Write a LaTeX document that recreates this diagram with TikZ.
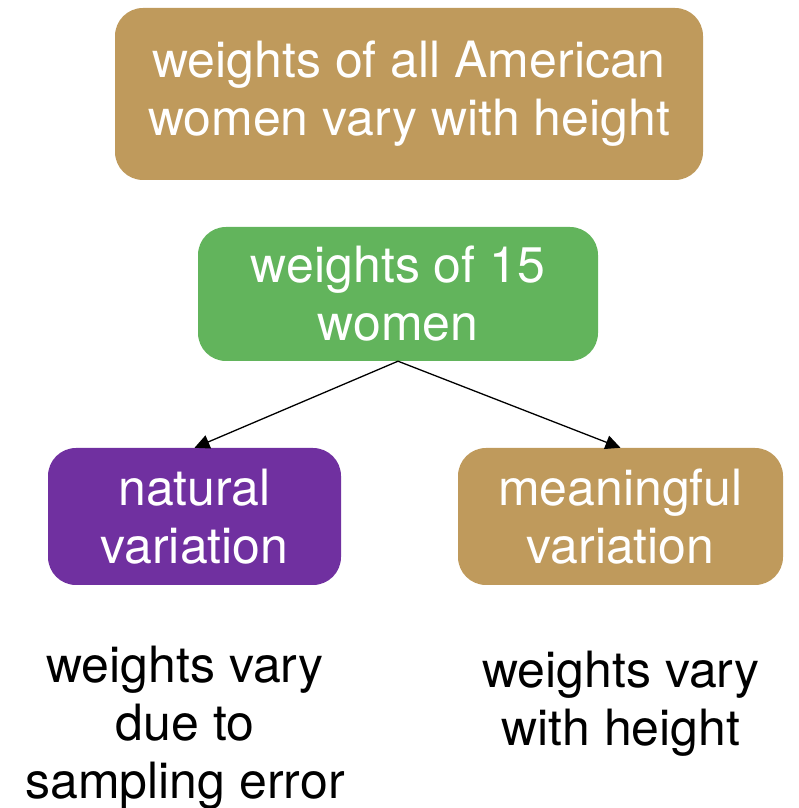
\documentclass[tikz,border=0pt]{standalone}
\usepackage{fontspec}
\setmainfont{TeX Gyre Heros}
\usetikzlibrary{arrows.meta,positioning}
\definecolor{tanbox}{HTML}{BF9A5C}
\definecolor{greenbox}{HTML}{62B45C}
\definecolor{purplebox}{HTML}{7030A0}

\begin{document}
\begin{tikzpicture}[x=1pt,y=1pt,
  every node/.style={font=\fontsize{50}{58}\selectfont},
  box/.style={rounded corners=28pt,text=white,align=center,inner sep=0pt}]
\useasboundingbox (0,0) rectangle (798,808);
\node[box,fill=tanbox,minimum width=588pt,minimum height=172pt] (pop) at (409,714) {weights of all American\\women vary with height};
\node[box,fill=greenbox,minimum width=400pt,minimum height=134pt] (sample) at (398,514) {weights of 15\\women};
\node[box,fill=purplebox,minimum width=293pt,minimum height=137pt] (natural) at (194.5,291.5) {natural\\variation};
\node[box,fill=tanbox,minimum width=325pt,minimum height=137pt] (meaning) at (620.5,291.5) {meaningful\\variation};
\node[align=center,inner sep=0pt] (errtext) at (185,80) {weights vary\\due to\\sampling error};
\node[align=center,inner sep=0pt] (hgttext) at (621,104) {weights vary\\with height};
\draw[-{Triangle[length=15pt,width=14pt]},line width=1.3pt] (sample.south) -- (natural.north);
\draw[-{Triangle[length=15pt,width=14pt]},line width=1.3pt] (sample.south) -- (meaning.north);
\end{tikzpicture}
\end{document}
